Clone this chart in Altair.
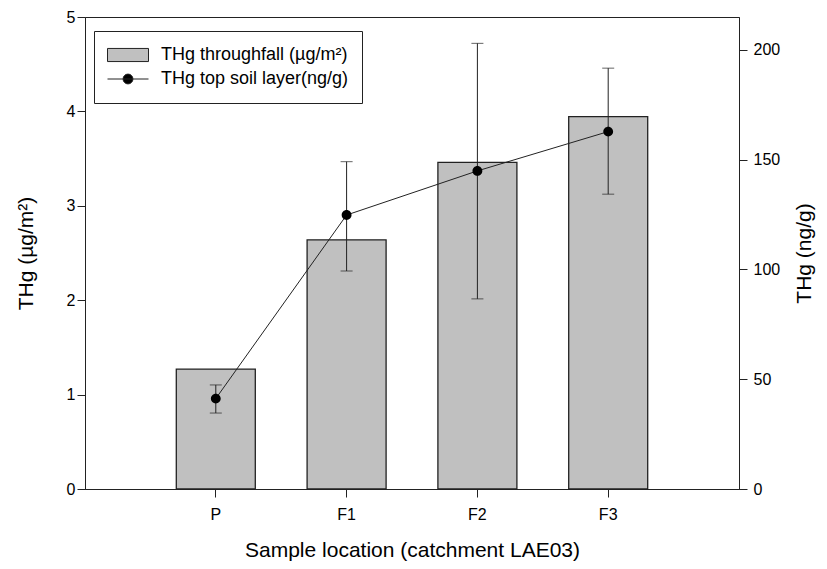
import altair as alt
import pandas as pd

# ---- data ----
locations = ["P", "F1", "F2", "F3"]
throughfall = [1.27, 2.64, 3.46, 3.945]          # THg throughfall (µg/m²), left axis
soil = [41.2, 124.8, 144.9, 162.8]               # THg top soil layer (ng/g), right axis
soil_lo = [34.6, 99.3, 86.6, 134.3]
soil_hi = [47.4, 149.1, 203.0, 191.7]

bar_label = "THg throughfall (µg/m²)"
line_label = "THg top soil layer(ng/g)"
series_names = [bar_label, line_label]
series_fill = ["#c0c0c0", "#000000"]

# legend / point symbols (unit square -1..1)
rect_path = "M-1,-0.32L1,-0.32L1,0.32L-1,0.32Z"
dot_path = "M-1,0L1,0M0.24,0A0.24,0.24,0,1,1,-0.24,0A0.24,0.24,0,1,1,0.24,0Z"

bars_df = pd.DataFrame({"loc": locations, "val": throughfall, "series": bar_label})
soil_df = pd.DataFrame({"loc": locations, "val": soil, "lo": soil_lo, "hi": soil_hi,
                        "series": line_label})

FONT = "Liberation Sans"
INK = "#222222"

x_enc = alt.X("loc:N", sort=locations,
              scale=alt.Scale(paddingInner=0.396, paddingOuter=0.698),
              axis=alt.Axis(title="Sample location (catchment LAE03)", labelAngle=0,
                            labelPadding=9, titlePadding=17))

legend = alt.Legend(title=None, orient="none", legendX=9, legendY=14,
                    symbolSize=1681, symbolStrokeWidth=1, clipHeight=22, rowPadding=2,
                    labelOffset=12, labelFontSize=18, labelFont=FONT, labelColor="black",
                    labelLimit=400, padding=13, strokeColor=INK, fillColor="white")

fill_enc = alt.Fill("series:N", scale=alt.Scale(domain=series_names, range=series_fill),
                    legend=legend)
shape_enc = alt.Shape("series:N", scale=alt.Scale(domain=series_names,
                                                  range=[rect_path, dot_path]),
                      legend=legend)

left_axis = alt.Axis(values=[0, 1, 2, 3, 4, 5], title="THg (µg/m²)", titlePadding=30)
bars = alt.Chart(bars_df).mark_bar(stroke=INK, strokeWidth=1.3).encode(
    x=x_enc,
    y=alt.Y("val:Q", scale=alt.Scale(domain=[0, 5], nice=False, zero=True), axis=left_axis),
    fill=fill_enc,
)

right_axis = alt.Axis(orient="right", values=[0, 50, 100, 150, 200], title="THg (ng/g)",
                      titleAngle=270, titleBaseline="top", titlePadding=14, labelPadding=6)
rscale = alt.Scale(domain=[0, 215], nice=False, zero=True)

line = alt.Chart(soil_df).mark_line(color=INK, strokeWidth=1).encode(
    x=x_enc, y=alt.Y("val:Q", scale=rscale, axis=right_axis))
err = alt.Chart(soil_df).mark_rule(color=INK, strokeWidth=1).encode(
    x=x_enc, y=alt.Y("lo:Q", scale=rscale, axis=right_axis), y2="hi:Q")
cap_hi = alt.Chart(soil_df).mark_tick(color=INK, size=12, thickness=1, orient="horizontal").encode(
    x=x_enc, y=alt.Y("hi:Q", scale=rscale, axis=right_axis))
cap_lo = alt.Chart(soil_df).mark_tick(color=INK, size=12, thickness=1, orient="horizontal").encode(
    x=x_enc, y=alt.Y("lo:Q", scale=rscale, axis=right_axis))
points = alt.Chart(soil_df).mark_point(filled=True, size=1681, stroke=INK, strokeWidth=1,
                                       opacity=1).encode(
    x=x_enc, y=alt.Y("val:Q", scale=rscale, axis=right_axis),
    fill=fill_enc, shape=shape_enc, strokeOpacity=alt.value(0))

soil_layer = alt.layer(line, err, cap_hi, cap_lo, points)

chart = alt.layer(bars, soil_layer).resolve_scale(y="independent").properties(
    width=654, height=472,
    autosize=alt.AutoSizeParams(type="none"),
    padding={"left": 77, "top": 9, "right": 80, "bottom": 72},
).configure_view(stroke=INK, strokeWidth=1).configure_axis(
    labelFont=FONT, titleFont=FONT, labelFontSize=16, titleFontSize=21,
    titleFontWeight="normal", labelColor="black", titleColor="black",
    domainColor=INK, tickColor=INK, tickSize=8, grid=False,
)

chart.save("out.html", embed_options={"renderer": "svg", "actions": False})
